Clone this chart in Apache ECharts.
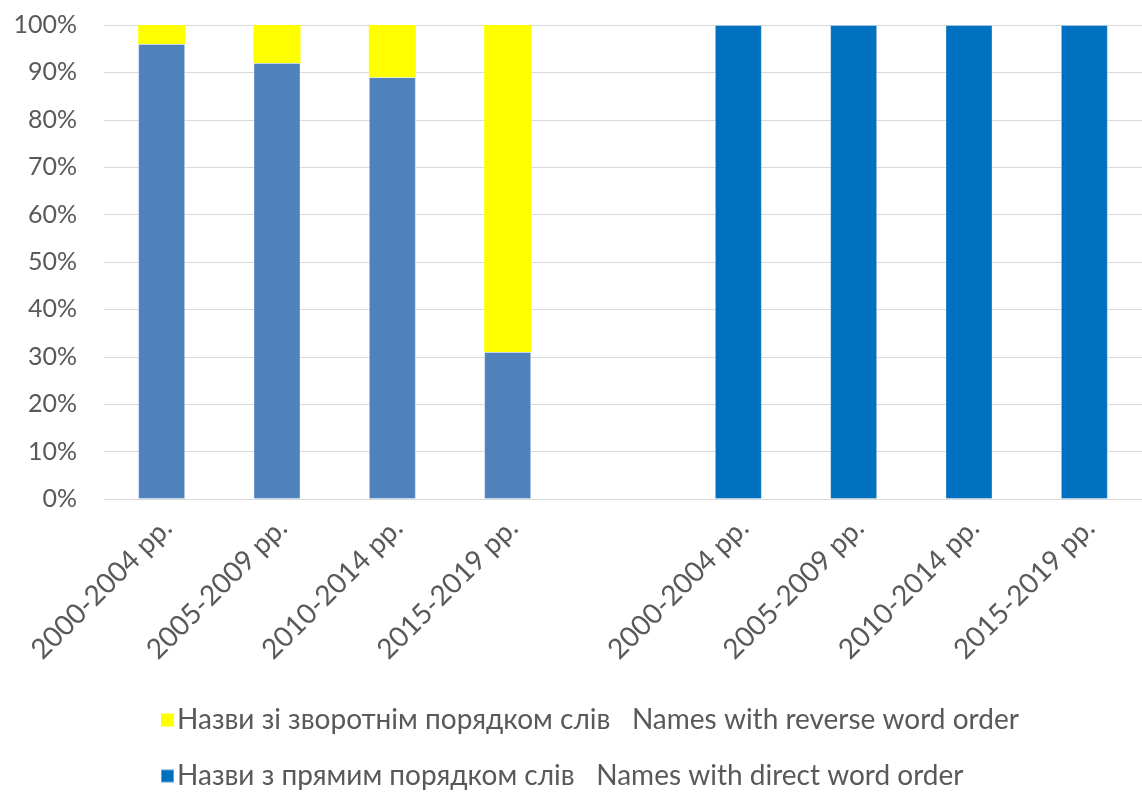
<!DOCTYPE html>
<html>
<head>
<meta charset="utf-8">
<script src="https://cdn.jsdelivr.net/npm/echarts@6/dist/echarts.min.js"></script>
<style>
  html, body { margin: 0; padding: 0; background: #ffffff; }
  #chart { width: 1142px; height: 792px; }
</style>
</head>
<body>
<div id="chart"></div>
<script>
// Periods: two groups of four, separated by an empty slot
const categories = [
  '2000-2004 рр.', '2005-2009 рр.', '2010-2014 рр.', '2015-2019 рр.',
  '',
  '2000-2004 рр.', '2005-2009 рр.', '2010-2014 рр.', '2015-2019 рр.'
];
// Share of names with direct word order, %
const directOrder = [96, 92, 89, 31, null, 100, 100, 100, 100];
// Share of names with reverse word order, %
const reverseOrder = [4, 8, 11, 69, null, 0, 0, 0, 0];
const yTicks = [0, 10, 20, 30, 40, 50, 60, 70, 80, 90, 100];

const reverseName = 'Назви зі зворотнім порядком слів   Names with reverse word order';
const directName = 'Назви з прямим порядком слів   Names with direct word order';

const FONT = 'Lato, "Open Sans", sans-serif';
const TEXT_COLOR = '#595959';
const GROUP1_BLUE = '#4F81BD';
const GROUP2_BLUE = '#0070C0';
const YELLOW = '#FFFF00';

const directData = directOrder.map((v, i) => ({
  value: v,
  itemStyle: { color: i < 4 ? GROUP1_BLUE : GROUP2_BLUE }
}));

const chart = echarts.init(document.getElementById('chart'), null, { renderer: 'canvas' });
chart.setOption({
  animation: false,
  backgroundColor: '#ffffff',
  textStyle: { fontFamily: FONT },
  grid: { left: 104, right: -9, top: 25, bottom: 293, containLabel: false },
  legend: {
    orient: 'vertical',
    left: 160,
    top: 706,
    padding: 0,
    itemWidth: 13,
    itemHeight: 13,
    itemGap: 28,
    icon: 'rect',
    textStyle: { fontFamily: FONT, fontSize: 28, color: TEXT_COLOR, padding: [0, 0, 0, -2] },
    data: [
      { name: reverseName, itemStyle: { color: YELLOW } },
      { name: directName, itemStyle: { color: GROUP2_BLUE } }
    ]
  },
  xAxis: {
    type: 'category',
    data: categories,
    axisLine: { lineStyle: { color: '#d9d9d9', width: 1 } },
    axisTick: { show: false },
    axisLabel: {
      rotate: 45,
      interval: 0,
      margin: 30,
      padding: [0, -8, 0, 0],
      fontSize: 28,
      color: TEXT_COLOR,
      fontFamily: FONT
    }
  },
  yAxis: {
    type: 'value',
    min: yTicks[0],
    max: yTicks[yTicks.length - 1],
    interval: yTicks[1] - yTicks[0],
    axisLine: { show: false },
    axisTick: { show: false },
    splitLine: { lineStyle: { color: '#d9d9d9', width: 1 } },
    axisLabel: {
      formatter: '{value}%',
      fontSize: 25,
      color: TEXT_COLOR,
      margin: 27,
      fontFamily: FONT
    }
  },
  series: [
    {
      name: directName,
      type: 'bar',
      stack: 'share',
      barWidth: 47,
      itemStyle: { color: GROUP2_BLUE, borderColor: 'rgba(255,255,255,0.35)', borderWidth: 1 },
      data: directData
    },
    {
      name: reverseName,
      type: 'bar',
      stack: 'share',
      barWidth: 47,
      itemStyle: { color: YELLOW },
      data: reverseOrder
    }
  ]
});
</script>
</body>
</html>
